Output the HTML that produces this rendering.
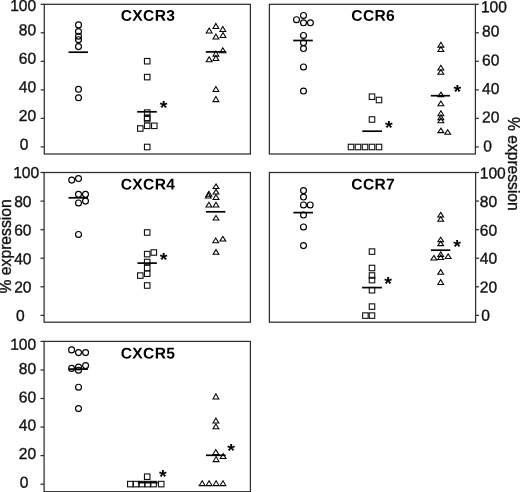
<!DOCTYPE html>
<html><head><meta charset="utf-8"><title>Chemokine receptor expression</title>
<style>
html,body{margin:0;padding:0;background:#fff;}
body{width:520px;height:492px;overflow:hidden;}
svg{display:block;font-family:"Liberation Sans",Arial,Helvetica,sans-serif;}
.box{fill:none;stroke:#2e2e2e;stroke-width:1.25;}
.tk{stroke:#2e2e2e;stroke-width:1.25;}
.m{fill:none;stroke:#000;stroke-width:1.15;}
.s{fill:none;stroke:#111;stroke-width:1.1;}
.t{fill:none;stroke:#000;stroke-width:1.05;stroke-linejoin:miter;}
.b{stroke:#000;stroke-width:1.7;}
.lb{font-size:15.9px;fill:#111;stroke:#111;stroke-width:0.35;}
.ti{font-size:15.5px;font-weight:bold;fill:#000;letter-spacing:0.3px;}
.st{font-size:18px;font-weight:bold;fill:#000;text-anchor:middle;}
</style></head><body>
<svg width="520" height="492" viewBox="0 0 520 492">
<rect x="0" y="0" width="520" height="492" fill="#fff"/>
<rect x="44.3" y="4.3" width="206.1" height="149.7" class="box"/>
<line x1="40.7" y1="4.3" x2="44.3" y2="4.3" class="tk"/>
<line x1="40.7" y1="32.8" x2="44.3" y2="32.8" class="tk"/>
<line x1="40.7" y1="61.3" x2="44.3" y2="61.3" class="tk"/>
<line x1="40.7" y1="89.9" x2="44.3" y2="89.9" class="tk"/>
<line x1="40.7" y1="118.4" x2="44.3" y2="118.4" class="tk"/>
<line x1="40.7" y1="146.9" x2="44.3" y2="146.9" class="tk"/>
<text transform="translate(36.2 11.0) rotate(0.03) scale(0.98 1)" class="lb" text-anchor="end">100</text>
<text transform="translate(36.2 35.3) rotate(0.03) scale(0.98 1)" class="lb" text-anchor="end">80</text>
<text transform="translate(36.2 63.7) rotate(0.03) scale(0.98 1)" class="lb" text-anchor="end">60</text>
<text transform="translate(36.2 92.2) rotate(0.03) scale(0.98 1)" class="lb" text-anchor="end">40</text>
<text transform="translate(36.2 120.9) rotate(0.03) scale(0.98 1)" class="lb" text-anchor="end">20</text>
<text transform="translate(24.2 149.8) rotate(0.03) scale(0.98 1)" class="lb" text-anchor="middle">0</text>
<text transform="translate(120.7 20.7) rotate(0.03) scale(1.01 1)" class="ti">CXCR3</text>
<circle cx="78.5" cy="24.9" r="2.95" class="m"/>
<circle cx="78.5" cy="31.5" r="2.95" class="m"/>
<circle cx="78.5" cy="36.2" r="2.95" class="m"/>
<circle cx="78.5" cy="39.7" r="2.95" class="m"/>
<circle cx="78.5" cy="46.6" r="2.95" class="m"/>
<circle cx="78.5" cy="89.3" r="2.95" class="m"/>
<circle cx="78.5" cy="97.8" r="2.95" class="m"/>
<line x1="68.5" y1="52.2" x2="88.0" y2="52.2" class="b"/>
<rect x="144.45" y="58.45" width="5.5" height="5.5" class="s"/>
<rect x="144.45" y="74.35" width="5.5" height="5.5" class="s"/>
<rect x="144.45" y="109.85" width="5.5" height="5.5" class="s"/>
<rect x="144.45" y="115.05" width="5.5" height="5.5" class="s"/>
<rect x="144.45" y="116.45" width="5.5" height="5.5" class="s"/>
<rect x="144.45" y="123.05" width="5.5" height="5.5" class="s"/>
<rect x="137.55" y="125.75" width="5.5" height="5.5" class="s"/>
<rect x="151.55" y="123.05" width="5.5" height="5.5" class="s"/>
<rect x="144.45" y="144.25" width="5.5" height="5.5" class="s"/>
<line x1="137.2" y1="111.8" x2="156.8" y2="111.8" class="b"/>
<text transform="translate(163.5 113.9) scale(1.1 1)" class="st">*</text>
<path d="M209.2 28.0L212.1 33.0L206.2 33.0Z" class="t"/>
<path d="M215.9 23.4L218.8 28.4L213.0 28.4Z" class="t"/>
<path d="M222.8 26.5L225.8 31.5L219.9 31.5Z" class="t"/>
<path d="M215.9 34.0L218.8 39.0L213.0 39.0Z" class="t"/>
<path d="M223.0 32.5L225.9 37.5L220.1 37.5Z" class="t"/>
<path d="M222.8 47.8L225.8 52.8L219.9 52.8Z" class="t"/>
<path d="M215.9 51.1L218.8 56.1L213.0 56.1Z" class="t"/>
<path d="M215.9 55.5L218.8 60.5L213.0 60.5Z" class="t"/>
<path d="M209.2 56.7L212.1 61.7L206.2 61.7Z" class="t"/>
<path d="M215.9 86.5L218.8 91.5L213.0 91.5Z" class="t"/>
<path d="M215.9 96.6L218.8 101.6L213.0 101.6Z" class="t"/>
<line x1="205.8" y1="51.9" x2="226.2" y2="51.9" class="b"/>
<rect x="269.4" y="4.3" width="206.0" height="149.7" class="box"/>
<line x1="475.4" y1="4.3" x2="478.8" y2="4.3" class="tk"/>
<line x1="475.4" y1="32.8" x2="478.8" y2="32.8" class="tk"/>
<line x1="475.4" y1="61.3" x2="478.8" y2="61.3" class="tk"/>
<line x1="475.4" y1="89.9" x2="478.8" y2="89.9" class="tk"/>
<line x1="475.4" y1="118.4" x2="478.8" y2="118.4" class="tk"/>
<line x1="475.4" y1="146.9" x2="478.8" y2="146.9" class="tk"/>
<text transform="translate(480.9 12.2) rotate(0.03) scale(0.98 1)" class="lb" text-anchor="start">100</text>
<text transform="translate(482.0 36.5) rotate(0.03) scale(0.98 1)" class="lb" text-anchor="start">80</text>
<text transform="translate(482.0 65.5) rotate(0.03) scale(0.98 1)" class="lb" text-anchor="start">60</text>
<text transform="translate(482.0 93.9) rotate(0.03) scale(0.98 1)" class="lb" text-anchor="start">40</text>
<text transform="translate(482.0 122.4) rotate(0.03) scale(0.98 1)" class="lb" text-anchor="start">20</text>
<text transform="translate(487.6 151.4) rotate(0.03) scale(0.98 1)" class="lb" text-anchor="middle">0</text>
<text transform="translate(351.3 20.7) rotate(0.03) scale(1.01 1)" class="ti">CCR6</text>
<circle cx="303.5" cy="15.4" r="2.95" class="m"/>
<circle cx="296.5" cy="19.7" r="2.95" class="m"/>
<circle cx="303.5" cy="22.8" r="2.95" class="m"/>
<circle cx="310.4" cy="22.8" r="2.95" class="m"/>
<circle cx="303.5" cy="35.4" r="2.95" class="m"/>
<circle cx="303.5" cy="42.7" r="2.95" class="m"/>
<circle cx="303.5" cy="48.5" r="2.95" class="m"/>
<circle cx="303.5" cy="66.9" r="2.95" class="m"/>
<circle cx="303.5" cy="91.0" r="2.95" class="m"/>
<line x1="293.2" y1="40.5" x2="312.8" y2="40.5" class="b"/>
<rect x="369.25" y="93.95" width="5.5" height="5.5" class="s"/>
<rect x="376.25" y="97.25" width="5.5" height="5.5" class="s"/>
<rect x="369.25" y="116.75" width="5.5" height="5.5" class="s"/>
<rect x="348.25" y="144.25" width="5.5" height="5.5" class="s"/>
<rect x="355.25" y="144.25" width="5.5" height="5.5" class="s"/>
<rect x="362.25" y="144.25" width="5.5" height="5.5" class="s"/>
<rect x="369.25" y="144.25" width="5.5" height="5.5" class="s"/>
<rect x="376.25" y="144.25" width="5.5" height="5.5" class="s"/>
<line x1="362.3" y1="131.2" x2="382.0" y2="131.2" class="b"/>
<text transform="translate(388.8 133.9) scale(1.1 1)" class="st">*</text>
<path d="M440.9 42.3L443.8 47.1L437.9 47.1Z" class="t"/>
<path d="M440.9 46.7L443.8 51.4L437.9 51.4Z" class="t"/>
<path d="M440.9 65.2L443.8 69.9L437.9 69.9Z" class="t"/>
<path d="M440.9 69.7L443.8 74.3L437.9 74.3Z" class="t"/>
<path d="M440.9 92.1L443.8 96.6L437.9 96.6Z" class="t"/>
<path d="M440.9 101.0L443.8 105.7L437.9 105.7Z" class="t"/>
<path d="M440.9 110.7L443.8 115.7L437.9 115.7Z" class="t"/>
<path d="M440.9 114.7L443.8 119.7L437.9 119.7Z" class="t"/>
<path d="M440.9 117.8L443.8 122.8L437.9 122.8Z" class="t"/>
<path d="M440.9 128.1L443.8 132.6L437.9 132.6Z" class="t"/>
<path d="M447.7 129.8L450.6 134.3L444.8 134.3Z" class="t"/>
<line x1="430.8" y1="95.7" x2="450.0" y2="95.7" class="b"/>
<text transform="translate(457.3 97.9) scale(1.1 1)" class="st">*</text>
<rect x="44.1" y="172.5" width="206.3" height="149.7" class="box"/>
<line x1="40.5" y1="172.5" x2="44.1" y2="172.5" class="tk"/>
<line x1="40.5" y1="201.1" x2="44.1" y2="201.1" class="tk"/>
<line x1="40.5" y1="229.7" x2="44.1" y2="229.7" class="tk"/>
<line x1="40.5" y1="258.2" x2="44.1" y2="258.2" class="tk"/>
<line x1="40.5" y1="286.8" x2="44.1" y2="286.8" class="tk"/>
<line x1="40.5" y1="315.4" x2="44.1" y2="315.4" class="tk"/>
<text transform="translate(13.2 178.1) rotate(0.03) scale(0.98 1)" class="lb" text-anchor="start">100</text>
<text transform="translate(14.2 206.9) rotate(0.03) scale(0.98 1)" class="lb" text-anchor="start">80</text>
<text transform="translate(14.2 235.5) rotate(0.03) scale(0.98 1)" class="lb" text-anchor="start">60</text>
<text transform="translate(14.2 264.3) rotate(0.03) scale(0.98 1)" class="lb" text-anchor="start">40</text>
<text transform="translate(14.2 292.4) rotate(0.03) scale(0.98 1)" class="lb" text-anchor="start">20</text>
<text transform="translate(20.4 320.9) rotate(0.03) scale(0.98 1)" class="lb" text-anchor="middle">0</text>
<text transform="translate(120.7 189.5) rotate(0.03) scale(1.01 1)" class="ti">CXCR4</text>
<circle cx="71.7" cy="180.1" r="2.95" class="m"/>
<circle cx="78.5" cy="178.5" r="2.95" class="m"/>
<circle cx="78.5" cy="194.3" r="2.95" class="m"/>
<circle cx="85.5" cy="194.3" r="2.95" class="m"/>
<circle cx="78.5" cy="202.9" r="2.95" class="m"/>
<circle cx="85.5" cy="201.1" r="2.95" class="m"/>
<circle cx="78.5" cy="234.4" r="2.95" class="m"/>
<line x1="68.5" y1="197.8" x2="88.0" y2="197.8" class="b"/>
<rect x="144.45" y="229.75" width="5.5" height="5.5" class="s"/>
<rect x="144.45" y="251.35" width="5.5" height="5.5" class="s"/>
<rect x="151.05" y="249.75" width="5.5" height="5.5" class="s"/>
<rect x="144.45" y="259.25" width="5.5" height="5.5" class="s"/>
<rect x="144.45" y="265.25" width="5.5" height="5.5" class="s"/>
<rect x="144.45" y="270.95" width="5.5" height="5.5" class="s"/>
<rect x="137.55" y="272.85" width="5.5" height="5.5" class="s"/>
<rect x="144.45" y="282.75" width="5.5" height="5.5" class="s"/>
<line x1="137.4" y1="263.1" x2="156.9" y2="263.1" class="b"/>
<text transform="translate(163.6 265.9) scale(1.1 1)" class="st">*</text>
<path d="M216.0 183.9L218.9 188.4L213.1 188.4Z" class="t"/>
<path d="M216.0 189.4L218.9 193.9L213.1 193.9Z" class="t"/>
<path d="M216.0 194.5L218.9 199.4L213.1 199.4Z" class="t"/>
<path d="M216.0 202.2L218.9 206.9L213.1 206.9Z" class="t"/>
<path d="M208.9 191.3L211.8 196.2L206.0 196.2Z" class="t"/>
<path d="M208.3 192.7L211.2 198.0L205.4 198.0Z" class="t"/>
<path d="M208.9 202.2L211.8 206.9L206.0 206.9Z" class="t"/>
<path d="M216.0 215.5L218.9 219.9L213.1 219.9Z" class="t"/>
<path d="M215.7 238.0L218.6 242.7L212.8 242.7Z" class="t"/>
<path d="M222.8 236.4L225.8 241.0L219.9 241.0Z" class="t"/>
<path d="M216.0 249.6L218.9 254.3L213.1 254.3Z" class="t"/>
<line x1="206.0" y1="211.8" x2="225.4" y2="211.8" class="b"/>
<rect x="269.4" y="172.5" width="206.2" height="149.7" class="box"/>
<line x1="475.6" y1="172.5" x2="479.0" y2="172.5" class="tk"/>
<line x1="475.6" y1="201.1" x2="479.0" y2="201.1" class="tk"/>
<line x1="475.6" y1="229.7" x2="479.0" y2="229.7" class="tk"/>
<line x1="475.6" y1="258.2" x2="479.0" y2="258.2" class="tk"/>
<line x1="475.6" y1="286.8" x2="479.0" y2="286.8" class="tk"/>
<line x1="475.6" y1="315.4" x2="479.0" y2="315.4" class="tk"/>
<text transform="translate(479.8 178.4) rotate(0.03) scale(0.98 1)" class="lb" text-anchor="start">100</text>
<text transform="translate(479.8 207.1) rotate(0.03) scale(0.98 1)" class="lb" text-anchor="start">80</text>
<text transform="translate(479.8 235.7) rotate(0.03) scale(0.98 1)" class="lb" text-anchor="start">60</text>
<text transform="translate(479.8 263.8) rotate(0.03) scale(0.98 1)" class="lb" text-anchor="start">40</text>
<text transform="translate(479.8 292.4) rotate(0.03) scale(0.98 1)" class="lb" text-anchor="start">20</text>
<text transform="translate(485.7 320.8) rotate(0.03) scale(0.98 1)" class="lb" text-anchor="middle">0</text>
<text transform="translate(351.3 189.5) rotate(0.03) scale(1.01 1)" class="ti">CCR7</text>
<circle cx="303.5" cy="190.6" r="2.95" class="m"/>
<circle cx="303.5" cy="197.0" r="2.95" class="m"/>
<circle cx="303.5" cy="204.9" r="2.95" class="m"/>
<circle cx="310.2" cy="204.9" r="2.95" class="m"/>
<circle cx="303.5" cy="215.0" r="2.95" class="m"/>
<circle cx="303.5" cy="226.9" r="2.95" class="m"/>
<circle cx="303.5" cy="245.6" r="2.95" class="m"/>
<line x1="293.4" y1="212.6" x2="313.0" y2="212.6" class="b"/>
<rect x="369.25" y="248.85" width="5.5" height="5.5" class="s"/>
<rect x="369.25" y="265.25" width="5.5" height="5.5" class="s"/>
<rect x="369.25" y="272.75" width="5.5" height="5.5" class="s"/>
<rect x="369.25" y="277.35" width="5.5" height="5.5" class="s"/>
<rect x="369.25" y="287.45" width="5.5" height="5.5" class="s"/>
<rect x="369.25" y="303.85" width="5.5" height="5.5" class="s"/>
<rect x="369.25" y="312.85" width="5.5" height="5.5" class="s"/>
<rect x="362.65" y="312.85" width="5.5" height="5.5" class="s"/>
<line x1="362.1" y1="287.6" x2="381.9" y2="287.6" class="b"/>
<text transform="translate(388.1 290.4) scale(1.1 1)" class="st">*</text>
<path d="M440.7 212.4L443.6 216.9L437.8 216.9Z" class="t"/>
<path d="M440.7 216.7L443.6 221.2L437.8 221.2Z" class="t"/>
<path d="M440.7 237.2L443.6 241.7L437.8 241.7Z" class="t"/>
<path d="M440.7 241.1L443.6 245.6L437.8 245.6Z" class="t"/>
<path d="M433.9 255.4L436.8 260.0L430.9 260.0Z" class="t"/>
<path d="M440.7 251.9L443.6 256.5L437.8 256.5Z" class="t"/>
<path d="M440.7 254.9L443.6 259.5L437.8 259.5Z" class="t"/>
<path d="M448.1 253.9L451.1 258.5L445.2 258.5Z" class="t"/>
<path d="M440.7 269.6L443.6 274.2L437.8 274.2Z" class="t"/>
<path d="M440.7 279.6L443.6 284.4L437.8 284.4Z" class="t"/>
<line x1="430.9" y1="250.2" x2="450.3" y2="250.2" class="b"/>
<text transform="translate(457.2 252.9) scale(1.1 1)" class="st">*</text>
<rect x="44.1" y="341.4" width="206.3" height="150.3" class="box"/>
<line x1="40.5" y1="341.4" x2="44.1" y2="341.4" class="tk"/>
<line x1="40.5" y1="370.0" x2="44.1" y2="370.0" class="tk"/>
<line x1="40.5" y1="398.5" x2="44.1" y2="398.5" class="tk"/>
<line x1="40.5" y1="427.1" x2="44.1" y2="427.1" class="tk"/>
<line x1="40.5" y1="455.6" x2="44.1" y2="455.6" class="tk"/>
<line x1="40.5" y1="484.2" x2="44.1" y2="484.2" class="tk"/>
<text transform="translate(36.2 349.7) rotate(0.03) scale(0.98 1)" class="lb" text-anchor="end">100</text>
<text transform="translate(36.2 374.0) rotate(0.03) scale(0.98 1)" class="lb" text-anchor="end">80</text>
<text transform="translate(36.2 402.6) rotate(0.03) scale(0.98 1)" class="lb" text-anchor="end">60</text>
<text transform="translate(36.2 430.5) rotate(0.03) scale(0.98 1)" class="lb" text-anchor="end">40</text>
<text transform="translate(36.2 459.0) rotate(0.03) scale(0.98 1)" class="lb" text-anchor="end">20</text>
<text transform="translate(24.2 487.7) rotate(0.03) scale(0.98 1)" class="lb" text-anchor="middle">0</text>
<text transform="translate(120.7 358.6) rotate(0.03) scale(1.01 1)" class="ti">CXCR5</text>
<circle cx="71.6" cy="349.9" r="2.95" class="m"/>
<circle cx="78.5" cy="352.6" r="2.95" class="m"/>
<circle cx="85.6" cy="352.6" r="2.95" class="m"/>
<circle cx="71.6" cy="368.4" r="2.95" class="m"/>
<circle cx="78.5" cy="367.0" r="2.95" class="m"/>
<circle cx="78.5" cy="370.2" r="2.95" class="m"/>
<circle cx="85.6" cy="365.6" r="2.95" class="m"/>
<circle cx="78.5" cy="387.2" r="2.95" class="m"/>
<circle cx="78.5" cy="408.6" r="2.95" class="m"/>
<line x1="68.7" y1="369.1" x2="87.9" y2="369.1" class="b"/>
<rect x="144.45" y="473.95" width="5.5" height="5.5" class="s"/>
<rect x="127.55" y="481.35" width="5.5" height="5.5" class="s"/>
<rect x="133.35" y="481.35" width="5.5" height="5.5" class="s"/>
<rect x="139.15" y="481.35" width="5.5" height="5.5" class="s"/>
<rect x="144.95" y="481.35" width="5.5" height="5.5" class="s"/>
<rect x="150.85" y="481.35" width="5.5" height="5.5" class="s"/>
<rect x="158.45" y="481.35" width="5.5" height="5.5" class="s"/>
<line x1="137.8" y1="482.6" x2="157.8" y2="482.6" class="b"/>
<text transform="translate(162.9 483.0) scale(1.1 1)" class="st">*</text>
<path d="M215.9 393.8L218.8 399.0L213.0 399.0Z" class="t"/>
<path d="M215.9 418.1L218.8 422.9L213.0 422.9Z" class="t"/>
<path d="M215.9 423.9L218.8 428.7L213.0 428.7Z" class="t"/>
<path d="M215.8 449.6L218.8 454.4L212.9 454.4Z" class="t"/>
<path d="M223.1 453.6L226.0 458.4L220.2 458.4Z" class="t"/>
<path d="M216.1 456.5L219.0 461.6L213.2 461.6Z" class="t"/>
<path d="M202.2 480.8L205.1 485.6L199.2 485.6Z" class="t"/>
<path d="M209.1 480.8L212.0 485.6L206.2 485.6Z" class="t"/>
<path d="M216.1 480.8L219.0 485.6L213.2 485.6Z" class="t"/>
<path d="M223.0 480.8L225.9 485.6L220.1 485.6Z" class="t"/>
<line x1="206.0" y1="455.3" x2="225.6" y2="455.3" class="b"/>
<text transform="translate(231.2 456.6) scale(1.1 1)" class="st">*</text>
<text transform="translate(11.4 293.6) rotate(-90) scale(0.99 1)" class="lb">% expression</text>
<text transform="translate(507.7 117.0) rotate(90) scale(0.983 1)" class="lb">% expression</text>
</svg>
</body></html>
